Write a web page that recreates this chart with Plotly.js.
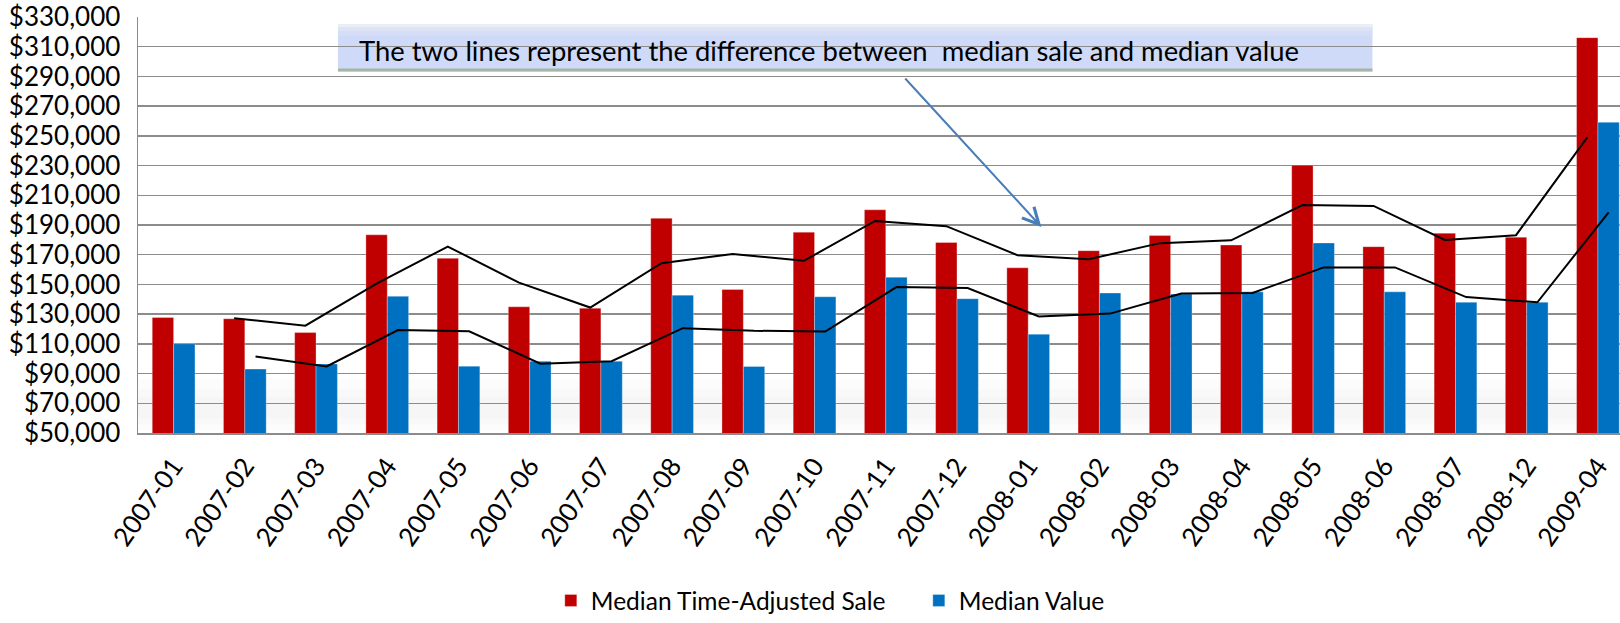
<!DOCTYPE html>
<html>
<head>
<meta charset="utf-8">
<script src="https://cdn.plot.ly/plotly-3.0.1.min.js"></script>
<style>
  html, body { margin: 0; padding: 0; background: #ffffff; overflow: hidden; }
  #chart { width: 1620px; height: 623px; }
</style>
</head>
<body>
<div id="chart"></div>
<script>
// ---- Data ----
const categories = ['2007-01','2007-02','2007-03','2007-04','2007-05','2007-06','2007-07',
  '2007-08','2007-09','2007-10','2007-11','2007-12','2008-01','2008-02','2008-03','2008-04',
  '2008-05','2008-06','2008-07','2008-12','2009-04'];

const saleValues = [127700, 126900, 117600, 183400, 167600, 134900, 134000,
  194500, 146600, 185200, 200200, 178200, 161200, 172700, 182900, 176500,
  230300, 175400, 184500, 181800, 316100];

const medianValues = [110100, 93000, 96500, 142000, 95000, 98300, 98300,
  142800, 94800, 141700, 154800, 140400, 116500, 144200, 143500, 145000,
  177900, 145000, 138000, 138000, 259100];

// Two black trend lines (2-period moving average lines as drawn in the picture)
const saleTrend = [null, 127300, 122250, 150500, 175500, 151250, 134450,
  164250, 170550, 165900, 192700, 189200, 169700, 166950, 177800, 179700,
  203400, 202850, 179950, 183150, 248950];

const valueTrend = [null, 101550, 94750, 119250, 118500, 96650, 98300,
  120550, 118800, 118250, 148250, 147600, 128450, 130350, 143850, 144250,
  161450, 161450, 141500, 138000, 198550];

const seriesNames = ['Median Time-Adjusted Sale', 'Median Value'];
const noteText = 'The two lines represent the difference between \u00A0median sale and median value';

// ---- Build ----
const FONT = 'Lato, "Open Sans", sans-serif';
const bargap = 0.4;
const barHalf = (1 - bargap) / 4;   // centre offset of each bar inside its group
const idx = categories.map((_, i) => i);

const traces = [
  { type: 'bar', name: seriesNames[0], x: idx, y: saleValues,
    marker: { color: '#C00000', line: { color: 'rgba(255,255,255,0.3)', width: 1 } },
    hoverinfo: 'y' },
  { type: 'bar', name: seriesNames[1], x: idx, y: medianValues,
    marker: { color: '#0070C0', line: { color: 'rgba(255,255,255,0.3)', width: 1 } },
    hoverinfo: 'y' },
  { type: 'scatter', mode: 'lines', x: idx.map(i => i - barHalf), y: saleTrend,
    line: { color: '#000000', width: 2 }, showlegend: false, hoverinfo: 'skip' },
  { type: 'scatter', mode: 'lines', x: idx.map(i => i + barHalf), y: valueTrend,
    line: { color: '#000000', width: 2 }, showlegend: false, hoverinfo: 'skip' }
];

// helpers converting chart pixels to paper coordinates
const L = 138.4, R = 1620, T = 17.3, B = 438.7;
const px = p => (p - L) / (R - L);
const py = p => (B - p) / (B - T);

const shapes = [
  // soft shadow near the floor
  { type: 'rect', xref: 'paper', yref: 'paper', x0: 0, x1: 1, y0: py(436), y1: py(384),
    fillcolor: 'rgba(0,0,0,0.010)', line: { width: 0 }, layer: 'below' },
  { type: 'rect', xref: 'paper', yref: 'paper', x0: 0, x1: 1, y0: py(430), y1: py(394),
    fillcolor: 'rgba(0,0,0,0.012)', line: { width: 0 }, layer: 'below' },
  { type: 'rect', xref: 'paper', yref: 'paper', x0: 0, x1: 1, y0: py(424), y1: py(402),
    fillcolor: 'rgba(0,0,0,0.012)', line: { width: 0 }, layer: 'below' },
  // note box
  { type: 'rect', xref: 'paper', yref: 'paper', x0: px(338.3), x1: px(1372.5), y0: py(72.5), y1: py(24.3),
    fillcolor: '#cfdaf9', line: { width: 0 }, layer: 'between' },
  { type: 'rect', xref: 'paper', yref: 'paper', x0: px(338.3), x1: px(1372.5), y0: py(28), y1: py(24.3),
    fillcolor: '#eceef7', line: { width: 0 }, layer: 'between' },
  { type: 'rect', xref: 'paper', yref: 'paper', x0: px(338.3), x1: px(1372.5), y0: py(32), y1: py(28),
    fillcolor: '#dfe3f6', line: { width: 0 }, layer: 'between' },
  { type: 'rect', xref: 'paper', yref: 'paper', x0: px(338.3), x1: px(1372.5), y0: py(36), y1: py(32),
    fillcolor: '#d5ddf7', line: { width: 0 }, layer: 'between' },
  { type: 'rect', xref: 'paper', yref: 'paper', x0: px(338.3), x1: px(1372.5), y0: py(72.5), y1: py(69.5),
    fillcolor: '#a4b6a4', line: { width: 0 }, layer: 'between' }
];

const annotations = [
  { xref: 'paper', yref: 'paper', x: px(357), y: py(51), xanchor: 'left', yanchor: 'middle',
    text: noteText, showarrow: false, font: { family: FONT, size: 27.4, color: '#000000' } },
  { xref: 'paper', yref: 'paper', x: px(1041.5), y: py(230), text: '', showarrow: true,
    ax: 904 - 1041.5, ay: 80 - 230, arrowhead: 5, arrowsize: 1.6, arrowwidth: 2,
    arrowcolor: '#4a7ebb', standoff: 0, startstandoff: 0 }
];

const layout = {
  width: 1620, height: 623,
  margin: { l: 138, r: 0, t: 17, b: 184, pad: 0 },
  paper_bgcolor: '#ffffff', plot_bgcolor: '#ffffff',
  barmode: 'group', bargap: bargap, bargroupgap: 0,
  font: { family: FONT, size: 26, color: '#000000' },
  xaxis: {
    range: [-0.5, 20.31], tickvals: idx, ticktext: categories, tickangle: -55,
    showgrid: false, zeroline: false, showline: true, linecolor: '#8c8c8c', linewidth: 1.5,
    ticks: '', ticklabelstandoff: 6, tickfont: { family: FONT, size: 26, color: '#000000' }
  },
  yaxis: {
    range: [50000, 330000], tick0: 50000, dtick: 20000, tickprefix: '$', tickformat: ',d',
    showgrid: true, gridcolor: '#8c8c8c', gridwidth: 1.5, zeroline: false,
    showline: true, linecolor: '#8c8c8c', linewidth: 1.5, ticks: '', ticklabelstandoff: 11,
    tickfont: { family: FONT, size: 26, color: '#000000' }
  },
  showlegend: true,
  legend: {
    orientation: 'h', x: px(919), xanchor: 'center', y: py(609), yanchor: 'middle',
    font: { family: FONT, size: 24.5, color: '#000000' }, bgcolor: 'rgba(0,0,0,0)',
    traceorder: 'normal', entrywidth: 323, entrywidthmode: 'pixels'
  },
  shapes: shapes,
  annotations: annotations,
  hovermode: false
};

Plotly.newPlot('chart', traces, layout, { displayModeBar: false, staticPlot: true });
</script>
</body>
</html>
